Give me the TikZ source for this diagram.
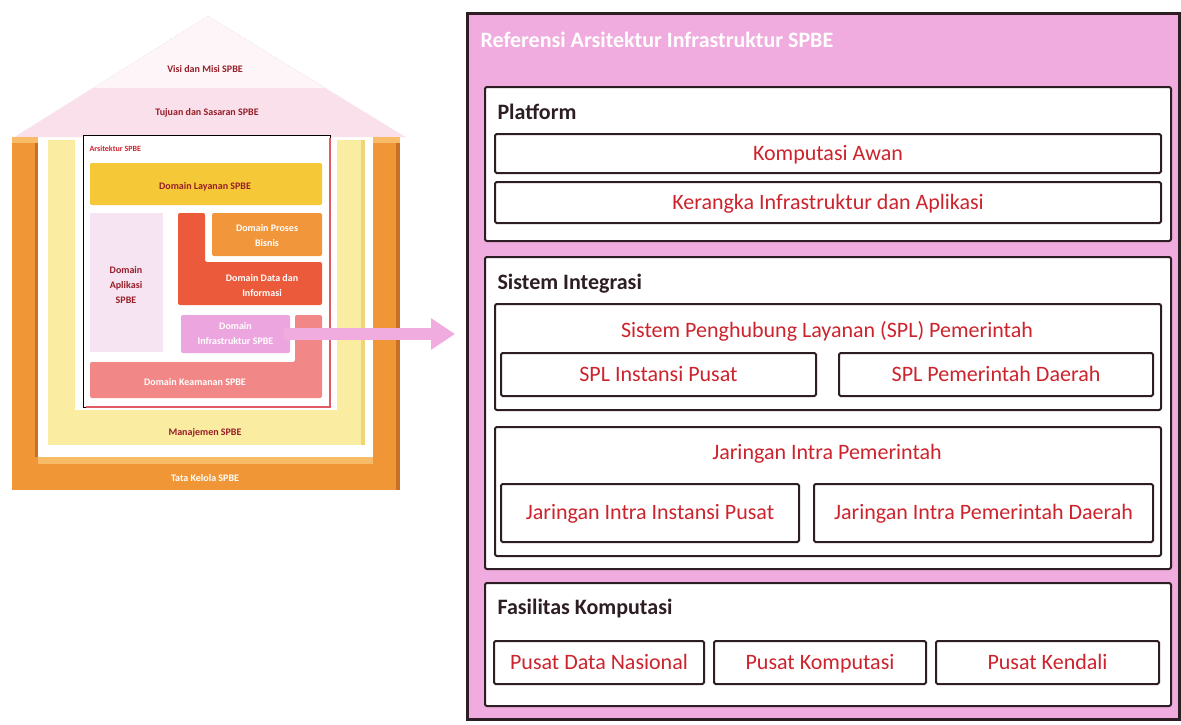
\documentclass[tikz,border=0pt]{standalone}
\usepackage{fontspec}
\setmainfont{Carlito}
\usetikzlibrary{arrows.meta,calc}

\definecolor{refpink}{RGB}{240,172,222}
\definecolor{framec}{RGB}{45,30,35}
\definecolor{itemred}{RGB}{205,35,45}
\definecolor{darkred}{RGB}{150,30,40}
\definecolor{roofc}{RGB}{253,245,248}
\definecolor{roofband}{RGB}{250,224,235}
\definecolor{roofline}{RGB}{215,205,210}
\definecolor{tatac}{RGB}{240,150,55}
\definecolor{tatad}{RGB}{200,112,35}
\definecolor{tatal}{RGB}{248,188,105}
\definecolor{manc}{RGB}{250,236,160}
\definecolor{mand}{RGB}{240,214,120}
\definecolor{arsred}{RGB}{225,90,100}
\definecolor{layananc}{RGB}{245,200,55}
\definecolor{prosesc}{RGB}{242,150,60}
\definecolor{datac}{RGB}{236,90,60}
\definecolor{aplikasic}{RGB}{246,228,242}
\definecolor{infrac}{RGB}{236,165,222}
\definecolor{keamananc}{RGB}{242,135,135}

\tikzset{
  refbox/.style={draw=framec, line width=2.5pt, fill=refpink, inner sep=0},
  groupbox/.style={draw=framec, line width=2pt, fill=white, rounded corners=2pt, inner sep=0},
  itembox/.style={draw=framec, line width=2pt, fill=white, rounded corners=1.5pt, inner sep=0,
    text=itemred, font=\fontsize{22}{26}\selectfont, text height=17pt, text depth=4pt},
  grouptitle/.style={text=itemred, font=\fontsize{22}{26}\selectfont},
  head/.style={anchor=west, text=framec, font=\fontsize{22}{26}\selectfont\bfseries},
  housetxt/.style={text=darkred, font=\fontsize{10}{15}\selectfont\bfseries, align=center},
  housewhite/.style={text=white, font=\fontsize{10}{15}\selectfont\bfseries, align=center},
  bigarrow/.style={draw=refpink, line width=12pt, -{Triangle[length=24pt,width=30pt]}}
}

\begin{document}
\begin{tikzpicture}[x=1pt,y=-1pt]
\useasboundingbox (0,0) rectangle (1181,724);

% rumah SPBE
\fill[roofc] (15,137) -- (208,16) -- (405,137) -- cycle;
\draw[roofline, densely dotted] (15,137) -- (208,16) -- (405,137);
\fill[roofband] (93,88) -- (325,88) -- (405,137) -- (15,137) -- cycle;
\node[housetxt] (visi) at (205,69) {Visi dan Misi SPBE};
\node[housetxt] (tujuan) at (207,113) {Tujuan dan Sasaran SPBE};

\fill[tatac] (12,137) rectangle (38,490);
\fill[tatac] (373,137) rectangle (400,490);
\fill[tatac] (12,457) rectangle (400,490);
\fill[tatal] (12,137) rectangle (38,143);
\fill[tatal] (373,137) rectangle (400,143);
\fill[tatal] (38,457) rectangle (373,464);
\fill[tatad] (35,143) rectangle (38,457);
\fill[tatad] (396,143) rectangle (400,490);
\node[housewhite] (tata) at (205,478) {Tata Kelola SPBE};

\fill[manc] (48,140) rectangle (75,445);
\fill[manc] (337,140) rectangle (365,445);
\fill[manc] (48,410) rectangle (365,445);
\fill[mand] (361,140) rectangle (365,445);
\node[housetxt] (manajemen) at (205,433) {Manajemen SPBE};

\draw[black, line width=1pt, fill=white] (83,135) rectangle (330,407);
\draw[arsred, line width=1.2pt] (330,138) -- (330,407) -- (86,407);
\node[anchor=west, text=itemred, font=\fontsize{8}{10}\selectfont\bfseries] (ars) at (86,149) {Arsitektur SPBE};

\fill[layananc, rounded corners=2] (90,163) rectangle (322,205);
\node[housetxt] (layanan) at (205,187) {Domain Layanan SPBE};
\fill[aplikasic] (90,213) rectangle (163,352);
\node[housetxt] (aplikasi) at (126,285) {Domain\\Aplikasi\\SPBE};
\fill[datac, rounded corners=2] (178,213) -- (205,213) -- (205,262) -- (322,262)
  -- (322,305) -- (178,305) -- cycle;
\node[housewhite] (data) at (262,286) {Domain Data dan\\Informasi};
\fill[prosesc, rounded corners=2] (212,213) rectangle (322,256);
\node[housewhite] (proses) at (267,236) {Domain Proses\\Bisnis};
\fill[keamananc, rounded corners=2] (295,315) -- (322,315) -- (322,398) -- (90,398)
  -- (90,362) -- (295,362) -- cycle;
\node[housewhite] (keamanan) at (195,382) {Domain Keamanan SPBE};
\node[housewhite, fill=infrac, rounded corners=2, minimum width=109, minimum height=38,
  inner sep=0] (infra) at (235.5,334) {Domain\\Infrastruktur SPBE};

% referensi arsitektur infrastruktur
\node[refbox, anchor=north west, minimum width=712, minimum height=706] (ref) at (466,12) {};
\node[anchor=west, text=white, font=\fontsize{22}{26}\selectfont\bfseries] (reftitle) at (477,40)
  {Referensi Arsitektur Infrastruktur SPBE};

\node[groupbox, anchor=north west, minimum width=686, minimum height=154] (platform) at (484,86) {};
\node[head] (platformhead) at (494,112) {Platform};
\node[itembox, anchor=north west, minimum width=666, minimum height=39] (awan) at (494,133) {Komputasi Awan};
\node[itembox, anchor=north west, minimum width=666, minimum height=41] (kerangka) at (494,181)
  {Kerangka Infrastruktur dan Aplikasi};

\node[groupbox, anchor=north west, minimum width=686, minimum height=312] (integrasi) at (484,256) {};
\node[head] (integrasihead) at (494,284) {Sistem Integrasi};
\node[groupbox, anchor=north west, minimum width=666, minimum height=106] (spl) at (494,303) {};
\node[grouptitle] (splhead) at (827,331) {Sistem Penghubung Layanan (SPL) Pemerintah};
\node[itembox, anchor=north west, minimum width=315, minimum height=43] (splpusat) at (500,352)
  {SPL Instansi Pusat};
\node[itembox, anchor=north west, minimum width=314, minimum height=43] (spldaerah) at (838,352)
  {SPL Pemerintah Daerah};
\node[groupbox, anchor=north west, minimum width=666, minimum height=129] (jaringan) at (494,426) {};
\node[grouptitle] (jaringanhead) at (827,454) {Jaringan Intra Pemerintah};
\node[itembox, anchor=north west, minimum width=298, minimum height=58] (jarpusat) at (500,483)
  {Jaringan Intra Instansi Pusat};
\node[itembox, anchor=north west, minimum width=339, minimum height=58] (jardaerah) at (813,483)
  {Jaringan Intra Pemerintah Daerah};

\node[groupbox, anchor=north west, minimum width=686, minimum height=123] (fasilitas) at (484,582) {};
\node[head] (fasilitashead) at (494,608) {Fasilitas Komputasi};
\node[itembox, anchor=north west, minimum width=210, minimum height=43] (pdn) at (493,640)
  {Pusat Data Nasional};
\node[itembox, anchor=north west, minimum width=212, minimum height=43] (komputasi) at (713,640)
  {Pusat Komputasi};
\node[itembox, anchor=north west, minimum width=223, minimum height=43] (kendali) at (935,640)
  {Pusat Kendali};

\draw[bigarrow] ([xshift=-6pt]infra.east) -- ($(ref.west |- infra.east)+(-11,0)$);
\end{tikzpicture}
\end{document}
